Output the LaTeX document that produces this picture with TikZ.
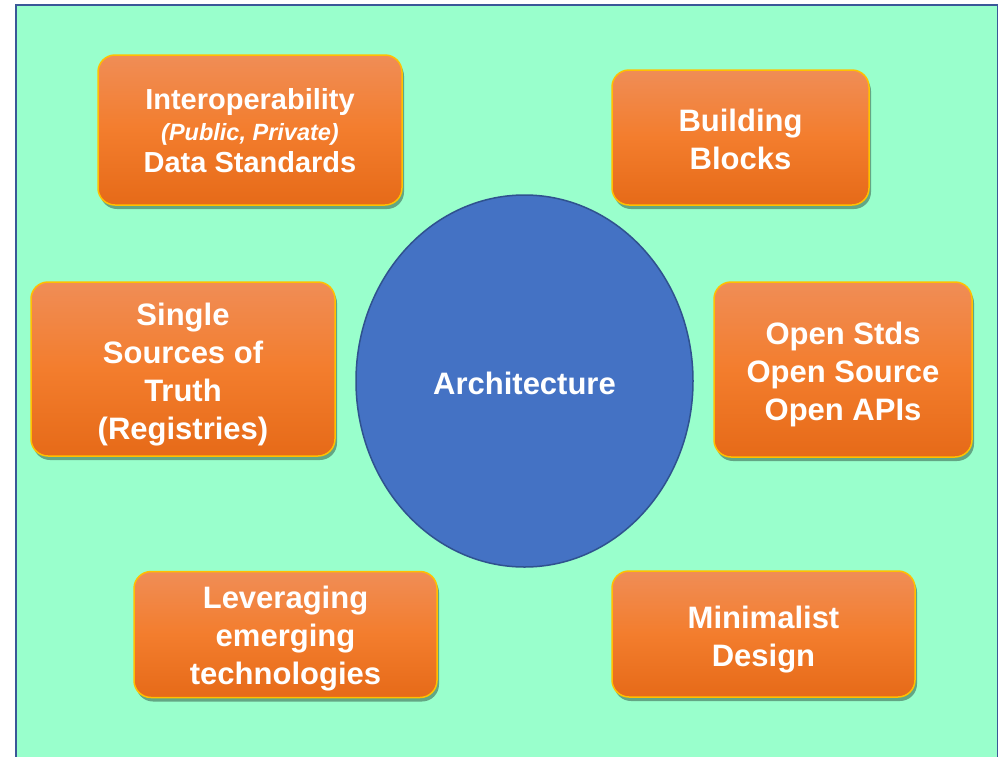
\documentclass[tikz,border=0pt]{standalone}
\usepackage{fontspec}
\setmainfont{Liberation Sans}
\usetikzlibrary{shapes.geometric,shadows}
\definecolor{mint}{RGB}{153,255,204}
\definecolor{framec}{RGB}{58,88,152}
\definecolor{otop}{RGB}{240,141,86}
\definecolor{omid}{RGB}{243,125,45}
\definecolor{obot}{RGB}{230,106,24}
\definecolor{gold}{RGB}{255,192,0}
\definecolor{efill}{RGB}{68,114,196}
\definecolor{edraw}{RGB}{47,82,143}
\newcommand{\lift}[1]{\rule{0pt}{#1}}
\tikzset{
  obox/.style={rectangle, rounded corners=17pt, draw=gold, line width=1.5pt,
    top color=otop, bottom color=obot, middle color=omid,
    text=white, align=center, inner sep=0pt,
    font=\fontsize{31}{38}\selectfont\bfseries,
    drop shadow={shadow xshift=2pt, shadow yshift=-4pt, opacity=0.35, fill=black}},
  core/.style={ellipse, draw=edraw, line width=1.5pt, fill=efill, text=white,
    inner sep=0pt, font=\fontsize{31}{38}\selectfont\bfseries}
}
\begin{document}
\begin{tikzpicture}[x=1pt,y=-1pt]
\useasboundingbox (0,0) rectangle (998,756);
\fill[mint] (16,5) rectangle (997.5,760);
\draw[framec, line width=2pt] (16,760) -- (16,5) -- (997.5,5) -- (997.5,760);

\node[core, minimum width=337pt, minimum height=372pt] (arch) at (524.5,381) {\lift{26.6pt}Architecture};

\node[obox, minimum width=304pt, minimum height=150pt,
  font=\fontsize{29}{31.5}\selectfont\bfseries] (interop) at (250,130)
  {\lift{22pt}Interoperability\\{\fontsize{23.5}{31.5}\selectfont\itshape (Public, Private)}\\Data Standards};
\node[obox, minimum width=257pt, minimum height=135pt] (blocks) at (740.5,137.5) {\lift{26.6pt}Building\\Blocks};
\node[obox, minimum width=304pt, minimum height=174pt] (truth) at (183,369) {\lift{32.6pt}Single\\Sources of\\Truth\\(Registries)};
\node[obox, minimum width=258pt, minimum height=175pt] (open) at (843,369.5) {\lift{32.6pt}Open Stds\\Open Source\\Open APIs};
\node[obox, minimum width=303pt, minimum height=126pt] (lever) at (285.5,634.5) {\lift{30.6pt}Leveraging\\emerging\\technologies};
\node[obox, minimum width=303pt, minimum height=126pt] (mini) at (763.5,634) {\lift{32.6pt}Minimalist\\Design};
\end{tikzpicture}
\end{document}
